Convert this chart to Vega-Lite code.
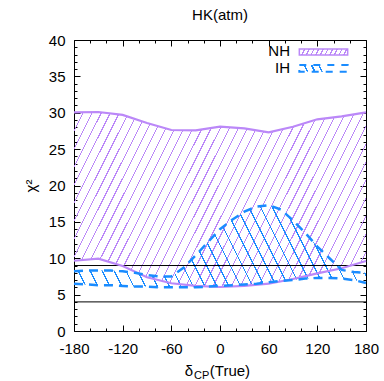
{
"$schema":"https://vega.github.io/schema/vega-lite/v6.json",
"width":292,"height":291,"autosize":"none",
"padding":{"left":74,"top":40,"right":18,"bottom":50},
"config":{"font":"Liberation Sans","view":{"stroke":"black","strokeWidth":1},
"axis":{"labelFont":"Liberation Sans","labelFontSize":15,"labelColor":"black","tickColor":"black","tickWidth":1,"grid":false,"domain":false,"titleFont":"Liberation Sans","titleFontSize":15,"titleFontWeight":"normal","titleColor":"black","labelFlush":false,"labelOverlap":false,"labelBound":false}},
"title":{"text":"HK(atm)","fontSize":15,"fontWeight":"normal","color":"black","anchor":"middle","offset":10,"font":"Liberation Sans"},
"datasets":{
"nh":[{"d":-180,"lo":9.66,"hi":30.06},{"d":-150,"lo":9.94,"hi":30.1},{"d":-120,"lo":8.93,"hi":29.7},{"d":-90,"lo":7.38,"hi":28.6},{"d":-60,"lo":6.56,"hi":27.63},{"d":-30,"lo":6.19,"hi":27.59},{"d":0,"lo":6.05,"hi":28.08},{"d":30,"lo":6.19,"hi":27.86},{"d":60,"lo":6.5,"hi":27.31},{"d":90,"lo":7.15,"hi":28.08},{"d":120,"lo":7.93,"hi":29.1},{"d":150,"lo":8.62,"hi":29.5},{"d":180,"lo":9.62,"hi":30.06}],
"ih":[{"d":-180,"lo":6.5,"hi":8.2},{"d":-165,"lo":6.4,"hi":8.3},{"d":-150,"lo":6.3,"hi":8.3},{"d":-135,"lo":6.3,"hi":8.3},{"d":-120,"lo":6.2,"hi":8.2},{"d":-105,"lo":6.1,"hi":8.0},{"d":-90,"lo":6.1,"hi":7.7},{"d":-75,"lo":6.0,"hi":7.5},{"d":-60,"lo":6.0,"hi":7.5},{"d":-45,"lo":6.0,"hi":8.7},{"d":-30,"lo":6.0,"hi":10.4},{"d":-15,"lo":6.1,"hi":12.2},{"d":0,"lo":6.2,"hi":14.0},{"d":15,"lo":6.3,"hi":15.3},{"d":30,"lo":6.4,"hi":16.4},{"d":45,"lo":6.5,"hi":17.1},{"d":60,"lo":6.7,"hi":17.3},{"d":75,"lo":6.9,"hi":16.7},{"d":90,"lo":7.0,"hi":15.2},{"d":105,"lo":7.2,"hi":13.5},{"d":120,"lo":7.3,"hi":11.6},{"d":135,"lo":7.3,"hi":10.0},{"d":150,"lo":7.2,"hi":8.4},{"d":165,"lo":7.0,"hi":8.1},{"d":180,"lo":6.6,"hi":8.0}]
},
"resolve":{"axis":{"x":"independent","y":"independent"}},
"layer":[
{"data":{"name":"nh"},
"mark":{"type":"area","fill":{"gradient":"linear","x1":0,"y1":0,"x2":1.193,"y2":0.3595,"stops":[
{"offset":0,"color":"#bb88f8"},{"offset":0.003,"color":"#bb88f8"},{"offset":0.003,"color":"#bb88f800"},{"offset":0.0238,"color":"#bb88f800"},
{"offset":0.0238,"color":"#bb88f8"},{"offset":0.0268,"color":"#bb88f8"},{"offset":0.0268,"color":"#bb88f800"},{"offset":0.0476,"color":"#bb88f800"},
{"offset":0.0476,"color":"#bb88f8"},{"offset":0.0506,"color":"#bb88f8"},{"offset":0.0506,"color":"#bb88f800"},{"offset":0.0714,"color":"#bb88f800"},
{"offset":0.0714,"color":"#bb88f8"},{"offset":0.0744,"color":"#bb88f8"},{"offset":0.0744,"color":"#bb88f800"},{"offset":0.0952,"color":"#bb88f800"},
{"offset":0.0952,"color":"#bb88f8"},{"offset":0.0982,"color":"#bb88f8"},{"offset":0.0982,"color":"#bb88f800"},{"offset":0.119,"color":"#bb88f800"},
{"offset":0.119,"color":"#bb88f8"},{"offset":0.122,"color":"#bb88f8"},{"offset":0.122,"color":"#bb88f800"},{"offset":0.1429,"color":"#bb88f800"},
{"offset":0.1429,"color":"#bb88f8"},{"offset":0.1459,"color":"#bb88f8"},{"offset":0.1459,"color":"#bb88f800"},{"offset":0.1667,"color":"#bb88f800"},
{"offset":0.1667,"color":"#bb88f8"},{"offset":0.1697,"color":"#bb88f8"},{"offset":0.1697,"color":"#bb88f800"},{"offset":0.1905,"color":"#bb88f800"},
{"offset":0.1905,"color":"#bb88f8"},{"offset":0.1935,"color":"#bb88f8"},{"offset":0.1935,"color":"#bb88f800"},{"offset":0.2143,"color":"#bb88f800"},
{"offset":0.2143,"color":"#bb88f8"},{"offset":0.2173,"color":"#bb88f8"},{"offset":0.2173,"color":"#bb88f800"},{"offset":0.2381,"color":"#bb88f800"},
{"offset":0.2381,"color":"#bb88f8"},{"offset":0.2411,"color":"#bb88f8"},{"offset":0.2411,"color":"#bb88f800"},{"offset":0.2619,"color":"#bb88f800"},
{"offset":0.2619,"color":"#bb88f8"},{"offset":0.2649,"color":"#bb88f8"},{"offset":0.2649,"color":"#bb88f800"},{"offset":0.2857,"color":"#bb88f800"},
{"offset":0.2857,"color":"#bb88f8"},{"offset":0.2887,"color":"#bb88f8"},{"offset":0.2887,"color":"#bb88f800"},{"offset":0.3095,"color":"#bb88f800"},
{"offset":0.3095,"color":"#bb88f8"},{"offset":0.3125,"color":"#bb88f8"},{"offset":0.3125,"color":"#bb88f800"},{"offset":0.3333,"color":"#bb88f800"},
{"offset":0.3333,"color":"#bb88f8"},{"offset":0.3363,"color":"#bb88f8"},{"offset":0.3363,"color":"#bb88f800"},{"offset":0.3571,"color":"#bb88f800"},
{"offset":0.3571,"color":"#bb88f8"},{"offset":0.3601,"color":"#bb88f8"},{"offset":0.3601,"color":"#bb88f800"},{"offset":0.381,"color":"#bb88f800"},
{"offset":0.381,"color":"#bb88f8"},{"offset":0.384,"color":"#bb88f8"},{"offset":0.384,"color":"#bb88f800"},{"offset":0.4048,"color":"#bb88f800"},
{"offset":0.4048,"color":"#bb88f8"},{"offset":0.4078,"color":"#bb88f8"},{"offset":0.4078,"color":"#bb88f800"},{"offset":0.4286,"color":"#bb88f800"},
{"offset":0.4286,"color":"#bb88f8"},{"offset":0.4316,"color":"#bb88f8"},{"offset":0.4316,"color":"#bb88f800"},{"offset":0.4524,"color":"#bb88f800"},
{"offset":0.4524,"color":"#bb88f8"},{"offset":0.4554,"color":"#bb88f8"},{"offset":0.4554,"color":"#bb88f800"},{"offset":0.4762,"color":"#bb88f800"},
{"offset":0.4762,"color":"#bb88f8"},{"offset":0.4792,"color":"#bb88f8"},{"offset":0.4792,"color":"#bb88f800"},{"offset":0.5,"color":"#bb88f800"},
{"offset":0.5,"color":"#bb88f8"},{"offset":0.503,"color":"#bb88f8"},{"offset":0.503,"color":"#bb88f800"},{"offset":0.5238,"color":"#bb88f800"},
{"offset":0.5238,"color":"#bb88f8"},{"offset":0.5268,"color":"#bb88f8"},{"offset":0.5268,"color":"#bb88f800"},{"offset":0.5476,"color":"#bb88f800"},
{"offset":0.5476,"color":"#bb88f8"},{"offset":0.5506,"color":"#bb88f8"},{"offset":0.5506,"color":"#bb88f800"},{"offset":0.5714,"color":"#bb88f800"},
{"offset":0.5714,"color":"#bb88f8"},{"offset":0.5744,"color":"#bb88f8"},{"offset":0.5744,"color":"#bb88f800"},{"offset":0.5952,"color":"#bb88f800"},
{"offset":0.5952,"color":"#bb88f8"},{"offset":0.5982,"color":"#bb88f8"},{"offset":0.5982,"color":"#bb88f800"},{"offset":0.619,"color":"#bb88f800"},
{"offset":0.619,"color":"#bb88f8"},{"offset":0.622,"color":"#bb88f8"},{"offset":0.622,"color":"#bb88f800"},{"offset":0.6429,"color":"#bb88f800"},
{"offset":0.6429,"color":"#bb88f8"},{"offset":0.6459,"color":"#bb88f8"},{"offset":0.6459,"color":"#bb88f800"},{"offset":0.6667,"color":"#bb88f800"},
{"offset":0.6667,"color":"#bb88f8"},{"offset":0.6697,"color":"#bb88f8"},{"offset":0.6697,"color":"#bb88f800"},{"offset":0.6905,"color":"#bb88f800"},
{"offset":0.6905,"color":"#bb88f8"},{"offset":0.6935,"color":"#bb88f8"},{"offset":0.6935,"color":"#bb88f800"},{"offset":0.7143,"color":"#bb88f800"},
{"offset":0.7143,"color":"#bb88f8"},{"offset":0.7173,"color":"#bb88f8"},{"offset":0.7173,"color":"#bb88f800"},{"offset":0.7381,"color":"#bb88f800"},
{"offset":0.7381,"color":"#bb88f8"},{"offset":0.7411,"color":"#bb88f8"},{"offset":0.7411,"color":"#bb88f800"},{"offset":0.7619,"color":"#bb88f800"},
{"offset":0.7619,"color":"#bb88f8"},{"offset":0.7649,"color":"#bb88f8"},{"offset":0.7649,"color":"#bb88f800"},{"offset":0.7857,"color":"#bb88f800"},
{"offset":0.7857,"color":"#bb88f8"},{"offset":0.7887,"color":"#bb88f8"},{"offset":0.7887,"color":"#bb88f800"},{"offset":0.8095,"color":"#bb88f800"},
{"offset":0.8095,"color":"#bb88f8"},{"offset":0.8125,"color":"#bb88f8"},{"offset":0.8125,"color":"#bb88f800"},{"offset":0.8333,"color":"#bb88f800"},
{"offset":0.8333,"color":"#bb88f8"},{"offset":0.8363,"color":"#bb88f8"},{"offset":0.8363,"color":"#bb88f800"},{"offset":0.8571,"color":"#bb88f800"},
{"offset":0.8571,"color":"#bb88f8"},{"offset":0.8601,"color":"#bb88f8"},{"offset":0.8601,"color":"#bb88f800"},{"offset":0.881,"color":"#bb88f800"},
{"offset":0.881,"color":"#bb88f8"},{"offset":0.884,"color":"#bb88f8"},{"offset":0.884,"color":"#bb88f800"},{"offset":0.9048,"color":"#bb88f800"},
{"offset":0.9048,"color":"#bb88f8"},{"offset":0.9078,"color":"#bb88f8"},{"offset":0.9078,"color":"#bb88f800"},{"offset":0.9286,"color":"#bb88f800"},
{"offset":0.9286,"color":"#bb88f8"},{"offset":0.9316,"color":"#bb88f8"},{"offset":0.9316,"color":"#bb88f800"},{"offset":0.9524,"color":"#bb88f800"},
{"offset":0.9524,"color":"#bb88f8"},{"offset":0.9554,"color":"#bb88f8"},{"offset":0.9554,"color":"#bb88f800"},{"offset":0.9762,"color":"#bb88f800"},
{"offset":0.9762,"color":"#bb88f8"},{"offset":0.9792,"color":"#bb88f8"},{"offset":0.9792,"color":"#bb88f800"},{"offset":1,"color":"#bb88f800"}]}},
"encoding":{
"x":{"field":"d","type":"quantitative","scale":{"domain":[-180,180],"nice":false,"zero":false},"axis":{"orient":"bottom","values":[-180,-120,-60,0,60,120,180],"labelExpr":"'' + datum.value","tickSize":-6,"labelPadding":16,"title":null}},
"y":{"field":"lo","type":"quantitative","scale":{"domain":[0,40],"nice":false,"zero":false},"axis":{"orient":"left","values":[0,5,10,15,20,25,30,35,40],"tickSize":-6,"labelPadding":15,"title":"χ²","titlePadding":10}},
"y2":{"field":"hi"}}},
{"data":{"name":"ih"},
"mark":{"type":"area","fill":{"gradient":"linear","x1":0,"y1":1,"x2":1.1185,"y2":0.8426,"stops":[
{"offset":0,"color":"#1a8cff"},{"offset":0.004,"color":"#1a8cff"},{"offset":0.004,"color":"#1a8cff00"},{"offset":0.0357,"color":"#1a8cff00"},
{"offset":0.0357,"color":"#1a8cff"},{"offset":0.0397,"color":"#1a8cff"},{"offset":0.0397,"color":"#1a8cff00"},{"offset":0.0714,"color":"#1a8cff00"},
{"offset":0.0714,"color":"#1a8cff"},{"offset":0.0754,"color":"#1a8cff"},{"offset":0.0754,"color":"#1a8cff00"},{"offset":0.1071,"color":"#1a8cff00"},
{"offset":0.1071,"color":"#1a8cff"},{"offset":0.1111,"color":"#1a8cff"},{"offset":0.1111,"color":"#1a8cff00"},{"offset":0.1429,"color":"#1a8cff00"},
{"offset":0.1429,"color":"#1a8cff"},{"offset":0.1469,"color":"#1a8cff"},{"offset":0.1469,"color":"#1a8cff00"},{"offset":0.1786,"color":"#1a8cff00"},
{"offset":0.1786,"color":"#1a8cff"},{"offset":0.1826,"color":"#1a8cff"},{"offset":0.1826,"color":"#1a8cff00"},{"offset":0.2143,"color":"#1a8cff00"},
{"offset":0.2143,"color":"#1a8cff"},{"offset":0.2183,"color":"#1a8cff"},{"offset":0.2183,"color":"#1a8cff00"},{"offset":0.25,"color":"#1a8cff00"},
{"offset":0.25,"color":"#1a8cff"},{"offset":0.254,"color":"#1a8cff"},{"offset":0.254,"color":"#1a8cff00"},{"offset":0.2857,"color":"#1a8cff00"},
{"offset":0.2857,"color":"#1a8cff"},{"offset":0.2897,"color":"#1a8cff"},{"offset":0.2897,"color":"#1a8cff00"},{"offset":0.3214,"color":"#1a8cff00"},
{"offset":0.3214,"color":"#1a8cff"},{"offset":0.3254,"color":"#1a8cff"},{"offset":0.3254,"color":"#1a8cff00"},{"offset":0.3571,"color":"#1a8cff00"},
{"offset":0.3571,"color":"#1a8cff"},{"offset":0.3611,"color":"#1a8cff"},{"offset":0.3611,"color":"#1a8cff00"},{"offset":0.3929,"color":"#1a8cff00"},
{"offset":0.3929,"color":"#1a8cff"},{"offset":0.3969,"color":"#1a8cff"},{"offset":0.3969,"color":"#1a8cff00"},{"offset":0.4286,"color":"#1a8cff00"},
{"offset":0.4286,"color":"#1a8cff"},{"offset":0.4326,"color":"#1a8cff"},{"offset":0.4326,"color":"#1a8cff00"},{"offset":0.4643,"color":"#1a8cff00"},
{"offset":0.4643,"color":"#1a8cff"},{"offset":0.4683,"color":"#1a8cff"},{"offset":0.4683,"color":"#1a8cff00"},{"offset":0.5,"color":"#1a8cff00"},
{"offset":0.5,"color":"#1a8cff"},{"offset":0.504,"color":"#1a8cff"},{"offset":0.504,"color":"#1a8cff00"},{"offset":0.5357,"color":"#1a8cff00"},
{"offset":0.5357,"color":"#1a8cff"},{"offset":0.5397,"color":"#1a8cff"},{"offset":0.5397,"color":"#1a8cff00"},{"offset":0.5714,"color":"#1a8cff00"},
{"offset":0.5714,"color":"#1a8cff"},{"offset":0.5754,"color":"#1a8cff"},{"offset":0.5754,"color":"#1a8cff00"},{"offset":0.6071,"color":"#1a8cff00"},
{"offset":0.6071,"color":"#1a8cff"},{"offset":0.6111,"color":"#1a8cff"},{"offset":0.6111,"color":"#1a8cff00"},{"offset":0.6429,"color":"#1a8cff00"},
{"offset":0.6429,"color":"#1a8cff"},{"offset":0.6469,"color":"#1a8cff"},{"offset":0.6469,"color":"#1a8cff00"},{"offset":0.6786,"color":"#1a8cff00"},
{"offset":0.6786,"color":"#1a8cff"},{"offset":0.6826,"color":"#1a8cff"},{"offset":0.6826,"color":"#1a8cff00"},{"offset":0.7143,"color":"#1a8cff00"},
{"offset":0.7143,"color":"#1a8cff"},{"offset":0.7183,"color":"#1a8cff"},{"offset":0.7183,"color":"#1a8cff00"},{"offset":0.75,"color":"#1a8cff00"},
{"offset":0.75,"color":"#1a8cff"},{"offset":0.754,"color":"#1a8cff"},{"offset":0.754,"color":"#1a8cff00"},{"offset":0.7857,"color":"#1a8cff00"},
{"offset":0.7857,"color":"#1a8cff"},{"offset":0.7897,"color":"#1a8cff"},{"offset":0.7897,"color":"#1a8cff00"},{"offset":0.8214,"color":"#1a8cff00"},
{"offset":0.8214,"color":"#1a8cff"},{"offset":0.8254,"color":"#1a8cff"},{"offset":0.8254,"color":"#1a8cff00"},{"offset":0.8571,"color":"#1a8cff00"},
{"offset":0.8571,"color":"#1a8cff"},{"offset":0.8611,"color":"#1a8cff"},{"offset":0.8611,"color":"#1a8cff00"},{"offset":0.8929,"color":"#1a8cff00"},
{"offset":0.8929,"color":"#1a8cff"},{"offset":0.8969,"color":"#1a8cff"},{"offset":0.8969,"color":"#1a8cff00"},{"offset":0.9286,"color":"#1a8cff00"},
{"offset":0.9286,"color":"#1a8cff"},{"offset":0.9326,"color":"#1a8cff"},{"offset":0.9326,"color":"#1a8cff00"},{"offset":0.9643,"color":"#1a8cff00"},
{"offset":0.9643,"color":"#1a8cff"},{"offset":0.9683,"color":"#1a8cff"},{"offset":0.9683,"color":"#1a8cff00"},{"offset":1,"color":"#1a8cff00"}]}},
"encoding":{
"x":{"field":"d","type":"quantitative","scale":{"domain":[-180,180],"nice":false,"zero":false},"axis":{"orient":"bottom","values":[-160,-140,-100,-80,-40,-20,20,40,80,100,140,160],"tickSize":-3,"labels":false,"title":null}},
"y":{"field":"lo","type":"quantitative","scale":{"domain":[0,40],"nice":false,"zero":false},"axis":{"orient":"left","values":[1,2,3,4,6,7,8,9,11,12,13,14,16,17,18,19,21,22,23,24,26,27,28,29,31,32,33,34,36,37,38,39],"tickSize":-3,"labels":false,"title":null}},
"y2":{"field":"hi"}}},
{"data":{"values":[{"v":9},{"v":4}]},"mark":{"type":"rule","color":"black","strokeWidth":1},
"encoding":{"y":{"field":"v","type":"quantitative","scale":{"domain":[0,40],"nice":false,"zero":false},"axis":null}}},
{"data":{"name":"nh"},"mark":{"type":"line","color":"#bb88f8","strokeWidth":2.2},
"encoding":{
"x":{"field":"d","type":"quantitative","scale":{"domain":[-180,180],"nice":false,"zero":false},"axis":{"orient":"top","values":[-180,-120,-60,0,60,120,180],"tickSize":-6,"labels":false,"title":null}},
"y":{"field":"hi","type":"quantitative","scale":{"domain":[0,40],"nice":false,"zero":false},"axis":{"orient":"right","values":[0,5,10,15,20,25,30,35,40],"tickSize":-6,"labels":false,"title":null}}}},
{"data":{"name":"nh"},"mark":{"type":"line","color":"#bb88f8","strokeWidth":2.2},
"encoding":{
"x":{"field":"d","type":"quantitative","scale":{"domain":[-180,180],"nice":false,"zero":false},"axis":{"orient":"top","values":[-160,-140,-100,-80,-40,-20,20,40,80,100,140,160],"tickSize":-3,"labels":false,"title":null}},
"y":{"field":"lo","type":"quantitative","scale":{"domain":[0,40],"nice":false,"zero":false},"axis":{"orient":"right","values":[1,2,3,4,6,7,8,9,11,12,13,14,16,17,18,19,21,22,23,24,26,27,28,29,31,32,33,34,36,37,38,39],"tickSize":-3,"labels":false,"title":null}}}},
{"data":{"name":"ih"},"mark":{"type":"line","color":"#1a8cff","strokeWidth":2.5,"strokeDash":[9,6]},
"encoding":{"x":{"field":"d","type":"quantitative","scale":{"domain":[-180,180],"nice":false,"zero":false},"axis":null},"y":{"field":"hi","type":"quantitative","scale":{"domain":[0,40],"nice":false,"zero":false},"axis":null}}},
{"data":{"name":"ih"},"mark":{"type":"line","color":"#1a8cff","strokeWidth":2.5,"strokeDash":[9,6]},
"encoding":{"x":{"field":"d","type":"quantitative","scale":{"domain":[-180,180],"nice":false,"zero":false},"axis":null},"y":{"field":"lo","type":"quantitative","scale":{"domain":[0,40],"nice":false,"zero":false},"axis":null}}},
{"data":{"values":[{"a":97.8,"b":157.4,"c":38.76,"e":37.94}]},
"mark":{"type":"rect","stroke":"#bb88f8","strokeWidth":1.5,"fill":{"gradient":"linear","x1":0,"y1":0,"x2":1.0579,"y2":0.0656,"stops":[
{"offset":0,"color":"#bb88f8"},{"offset":0.027,"color":"#bb88f8"},{"offset":0.027,"color":"#bb88f800"},{"offset":0.0909,"color":"#bb88f800"},
{"offset":0.0909,"color":"#bb88f8"},{"offset":0.1179,"color":"#bb88f8"},{"offset":0.1179,"color":"#bb88f800"},{"offset":0.1818,"color":"#bb88f800"},
{"offset":0.1818,"color":"#bb88f8"},{"offset":0.2088,"color":"#bb88f8"},{"offset":0.2088,"color":"#bb88f800"},{"offset":0.2727,"color":"#bb88f800"},
{"offset":0.2727,"color":"#bb88f8"},{"offset":0.2997,"color":"#bb88f8"},{"offset":0.2997,"color":"#bb88f800"},{"offset":0.3636,"color":"#bb88f800"},
{"offset":0.3636,"color":"#bb88f8"},{"offset":0.3906,"color":"#bb88f8"},{"offset":0.3906,"color":"#bb88f800"},{"offset":0.4545,"color":"#bb88f800"},
{"offset":0.4545,"color":"#bb88f8"},{"offset":0.4815,"color":"#bb88f8"},{"offset":0.4815,"color":"#bb88f800"},{"offset":0.5455,"color":"#bb88f800"},
{"offset":0.5455,"color":"#bb88f8"},{"offset":0.5725,"color":"#bb88f8"},{"offset":0.5725,"color":"#bb88f800"},{"offset":0.6364,"color":"#bb88f800"},
{"offset":0.6364,"color":"#bb88f8"},{"offset":0.6634,"color":"#bb88f8"},{"offset":0.6634,"color":"#bb88f800"},{"offset":0.7273,"color":"#bb88f800"},
{"offset":0.7273,"color":"#bb88f8"},{"offset":0.7543,"color":"#bb88f8"},{"offset":0.7543,"color":"#bb88f800"},{"offset":0.8182,"color":"#bb88f800"},
{"offset":0.8182,"color":"#bb88f8"},{"offset":0.8452,"color":"#bb88f8"},{"offset":0.8452,"color":"#bb88f800"},{"offset":0.9091,"color":"#bb88f800"},
{"offset":0.9091,"color":"#bb88f8"},{"offset":0.9361,"color":"#bb88f8"},{"offset":0.9361,"color":"#bb88f800"},{"offset":1,"color":"#bb88f800"}]}},
"encoding":{"x":{"field":"a","type":"quantitative","scale":{"domain":[-180,180],"nice":false,"zero":false},"axis":null},"x2":{"field":"b"},"y":{"field":"c","type":"quantitative","scale":{"domain":[0,40],"nice":false,"zero":false},"axis":null},"y2":{"field":"e"}}},
{"data":{"values":[{"a":97.8,"b":157.4,"c":36.56,"e":35.64}]},
"mark":{"type":"rect","stroke":"#1a8cff","strokeWidth":2,"strokeDash":[7,7],"fill":{"gradient":"linear","x1":0,"y1":1,"x2":1.0641,"y2":0.9263,"stops":[
{"offset":0,"color":"#1a8cff00"},{"offset":0.1429,"color":"#1a8cff00"},
{"offset":0.1429,"color":"#1a8cff"},{"offset":0.1729,"color":"#1a8cff"},{"offset":0.1729,"color":"#1a8cff00"},{"offset":0.2857,"color":"#1a8cff00"},
{"offset":0.2857,"color":"#1a8cff"},{"offset":0.3157,"color":"#1a8cff"},{"offset":0.3157,"color":"#1a8cff00"},{"offset":0.4286,"color":"#1a8cff00"},
{"offset":0.4286,"color":"#1a8cff"},{"offset":0.4586,"color":"#1a8cff"},{"offset":0.4586,"color":"#1a8cff00"},{"offset":1,"color":"#1a8cff00"}]}},
"encoding":{"x":{"field":"a","type":"quantitative","scale":{"domain":[-180,180],"nice":false,"zero":false},"axis":null},"x2":{"field":"b"},"y":{"field":"c","type":"quantitative","scale":{"domain":[0,40],"nice":false,"zero":false},"axis":null},"y2":{"field":"e"}}},
{"data":{"values":[{"x":86.3,"y":38.5,"t":"NH"},{"x":86.3,"y":36.15,"t":"IH"}]},
"mark":{"type":"text","align":"right","baseline":"middle","fontSize":15,"font":"Liberation Sans","color":"black"},
"encoding":{"x":{"field":"x","type":"quantitative","scale":{"domain":[-180,180],"nice":false,"zero":false},"axis":null},"y":{"field":"y","type":"quantitative","scale":{"domain":[0,40],"nice":false,"zero":false},"axis":null},"text":{"field":"t"}}},
{"data":{"values":[{"x":-38.2,"y":-6.19,"t":"δ"},{"x":12.3,"y":-6.19,"t":"(True)"}]},
"mark":{"type":"text","align":"center","baseline":"alphabetic","fontSize":15,"font":"Liberation Sans","color":"black"},
"encoding":{"x":{"field":"x","type":"quantitative","scale":{"domain":[-180,180],"nice":false,"zero":false},"axis":null},"y":{"field":"y","type":"quantitative","scale":{"domain":[0,40],"nice":false,"zero":false},"axis":null},"text":{"field":"t"}}},
{"data":{"values":[{"x":-22.6,"y":-6.6,"t":"CP"}]},
"mark":{"type":"text","align":"center","baseline":"alphabetic","fontSize":11,"font":"Liberation Sans","color":"black"},
"encoding":{"x":{"field":"x","type":"quantitative","scale":{"domain":[-180,180],"nice":false,"zero":false},"axis":null},"y":{"field":"y","type":"quantitative","scale":{"domain":[0,40],"nice":false,"zero":false},"axis":null},"text":{"field":"t"}}}
]
}
